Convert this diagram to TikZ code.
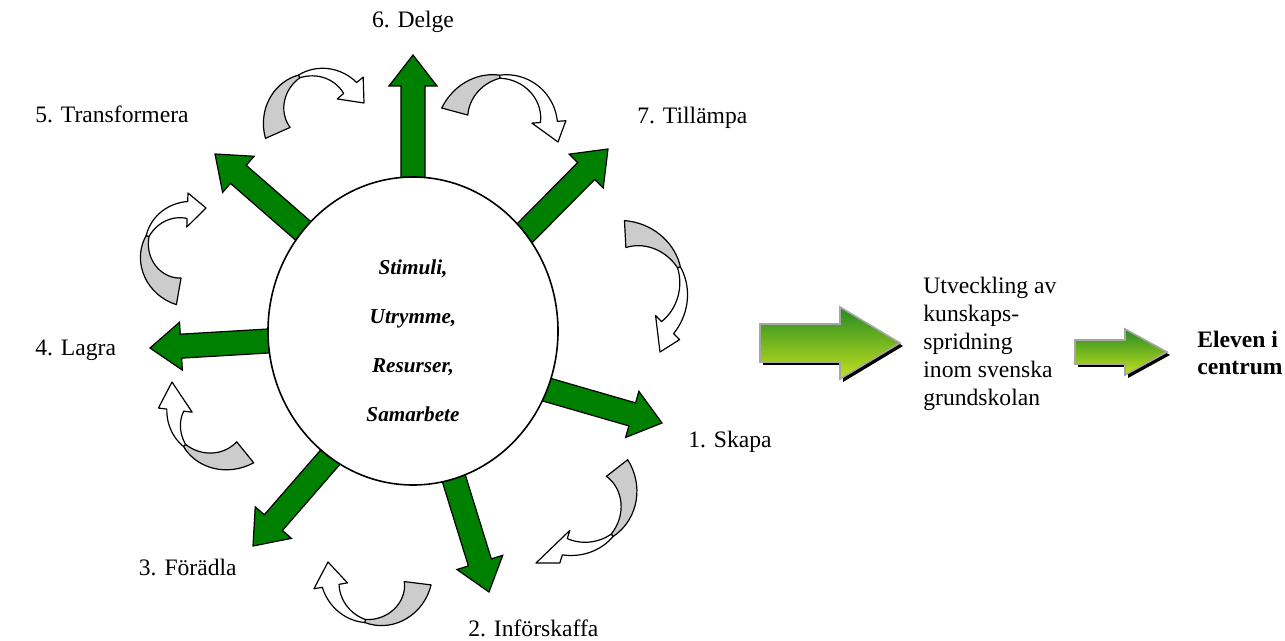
\documentclass[tikz,border=0pt]{standalone}
\usepackage{fontspec}
\setmainfont{Liberation Serif}
\usetikzlibrary{calc,shapes.geometric}
\definecolor{leafgreen}{RGB}{0,128,0}
\definecolor{backgray}{RGB}{204,204,204}
\definecolor{shinytop}{RGB}{38,138,34}
\definecolor{shinymid}{RGB}{92,180,40}
\definecolor{shinybot}{RGB}{196,226,30}
\tikzstyle{lbl} = [font=\fontsize{11.8}{14}\selectfont, inner sep=0pt]
\tikzstyle{hubtext} = [font=\fontsize{10.6}{24.5}\selectfont\bfseries\itshape, align=center, inner sep=0pt]
\tikzstyle{grarrow} = [fill=leafgreen, draw=black, line width=0.6pt]
\tikzstyle{twistback} = [fill=backgray, draw=black, line width=0.6pt, line join=round]
\tikzstyle{twistfront} = [fill=white, draw=black, line width=0.6pt, line join=round]
\newcommand{\greenarrow}[2]{%
  \coordinate (#2-hb) at ($(#2)!15.5pt!(#1)$);
  \filldraw[grarrow] ($(#1)!6pt!90:(#2)$) -- ($(#2-hb)!6pt!90:(#2)$) -- ($(#2-hb)!12pt!90:(#2)$)
    -- (#2) -- ($(#2-hb)!12pt!-90:(#2)$) -- ($(#2-hb)!6pt!-90:(#2)$) -- ($(#1)!6pt!-90:(#2)$) -- cycle;}
\newcommand{\twistarrow}[9]{%
  \begin{scope}[shift={(#1,#2)}]
    \filldraw[twistback] plot[domain=#5:#6,samples=18] (\x:{#3+(#4-#3)*(\x-#5)/(#7-#5)+12*(#6-\x)/(#6-#5)+1.5})
      -- plot[domain=#6:#5,samples=18] (\x:{#3+(#4-#3)*(\x-#5)/(#7-#5)-12*(#6-\x)/(#6-#5)-1.5}) -- cycle;
    \filldraw[twistfront] plot[domain=#6:#7,samples=18] (\x:{#3+(#4-#3)*(\x-#5)/(#7-#5)+7*(\x-#6)/(#7-#6)+1.5})
      -- (#7:{#4+17}) -- ({#8-#1},{#9-#2}) -- (#7:{#4-17})
      -- plot[domain=#7:#6,samples=18] (\x:{#3+(#4-#3)*(\x-#5)/(#7-#5)-7*(\x-#6)/(#7-#6)-1.5}) -- cycle;
  \end{scope}}
\newcommand{\shinyarrow}[5]{%
  \fill[black] ($(#1)+(3,{3-#5})$) -- ($(#1)+({#2-#3+3},{3-#5})$) -- ($(#1)+({#2-#3+3},{3-#4})$)
    -- ($(#1)+({#2+3},3)$) -- ($(#1)+({#2-#3+3},{#4+3})$) -- ($(#1)+({#2-#3+3},{#5+3})$) -- ($(#1)+(3,{#5+3})$) -- cycle;
  \shade[top color=shinytop, middle color=shinymid, bottom color=shinybot, draw=gray!70, line width=0.8pt]
    ($(#1)+(0,-#5)$) -- ($(#1)+({#2-#3},-#5)$) -- ($(#1)+({#2-#3},-#4)$) -- ($(#1)+(#2,0)$)
    -- ($(#1)+({#2-#3},#4)$) -- ($(#1)+({#2-#3},#5)$) -- ($(#1)+(0,#5)$) -- cycle;}

\begin{document}
\begin{tikzpicture}[x=0.5pt,y=-0.5pt]
\useasboundingbox (0,0) rectangle (1285,641);
\coordinate (b1) at (534,386); \coordinate (t1) at (662,423);
\coordinate (b2) at (450,466); \coordinate (t2) at (489,592);
\coordinate (b3) at (340,446); \coordinate (t3) at (253,546);
\coordinate (b4) at (285,340); \coordinate (t4) at (150,348);
\coordinate (b5) at (316,242); \coordinate (t5) at (215,154);
\coordinate (b6) at (413,200); \coordinate (t6) at (413,55);
\coordinate (b7) at (512,246); \coordinate (t7) at (608,149);
\greenarrow{b1}{t1}
\greenarrow{b2}{t2}
\greenarrow{b3}{t3}
\greenarrow{b4}{t4}
\greenarrow{b5}{t5}
\greenarrow{b6}{t6}
\greenarrow{b7}{t7}
\node[draw, ellipse, fill=white, line width=0.8pt, minimum width=145pt, minimum height=154pt, inner sep=0pt] (hub) at (413,331) {};
\node[hubtext] (hubtxt) at (413,341) {Stimuli,\\Utrymme,\\Resurser,\\Samarbete};

\twistarrow{318}{115}{44}{42}{156}{244}{320}{364}{103}
\twistarrow{505}{125}{52}{44}{195}{264}{356}{558}{142}
\twistarrow{628}{288}{54}{56}{267}{338}{405}{660}{352}
\twistarrow{580}{497}{47}{52}{322}{410}{467}{536}{563}
\twistarrow{375}{578}{43}{45}{7}{103}{170}{328}{562}
\twistarrow{215}{415}{48}{40}{51}{135}{187}{172}{382}
\twistarrow{186}{250}{42}{40}{100}{200}{272}{206}{208}

\node[lbl, anchor=west] (skapa) at (688,442) {1. Skapa};
\node[lbl, anchor=west] (inforskaffa) at (468,628) {2. Införskaffa};
\node[lbl, anchor=east] (foradla) at (237,567) {3. Förädla};
\node[lbl, anchor=west] (lagra) at (35,350) {4. Lagra};
\node[lbl, anchor=west] (transformera) at (35,114) {5. Transformera};
\node[lbl] (delge) at (413,22) {6. Delge};
\node[lbl, anchor=west] (tillampa) at (637,118) {7. Tillämpa};

\coordinate (s1) at (760,343);
\shinyarrow{s1}{140}{60}{36}{19}
\node[lbl, anchor=west, align=left] (spread) at (923,344) {Utveckling av\\kunskaps-\\spridning\\inom svenska\\grundskolan};
\coordinate (s2) at (1075,352);
\shinyarrow{s2}{92}{42}{23}{12}
\node[lbl, anchor=west, align=left, font=\bfseries\fontsize{11.8}{13.5}\selectfont] (pupil) at (1197,353) {Eleven i\\centrum};
\end{tikzpicture}
\end{document}
